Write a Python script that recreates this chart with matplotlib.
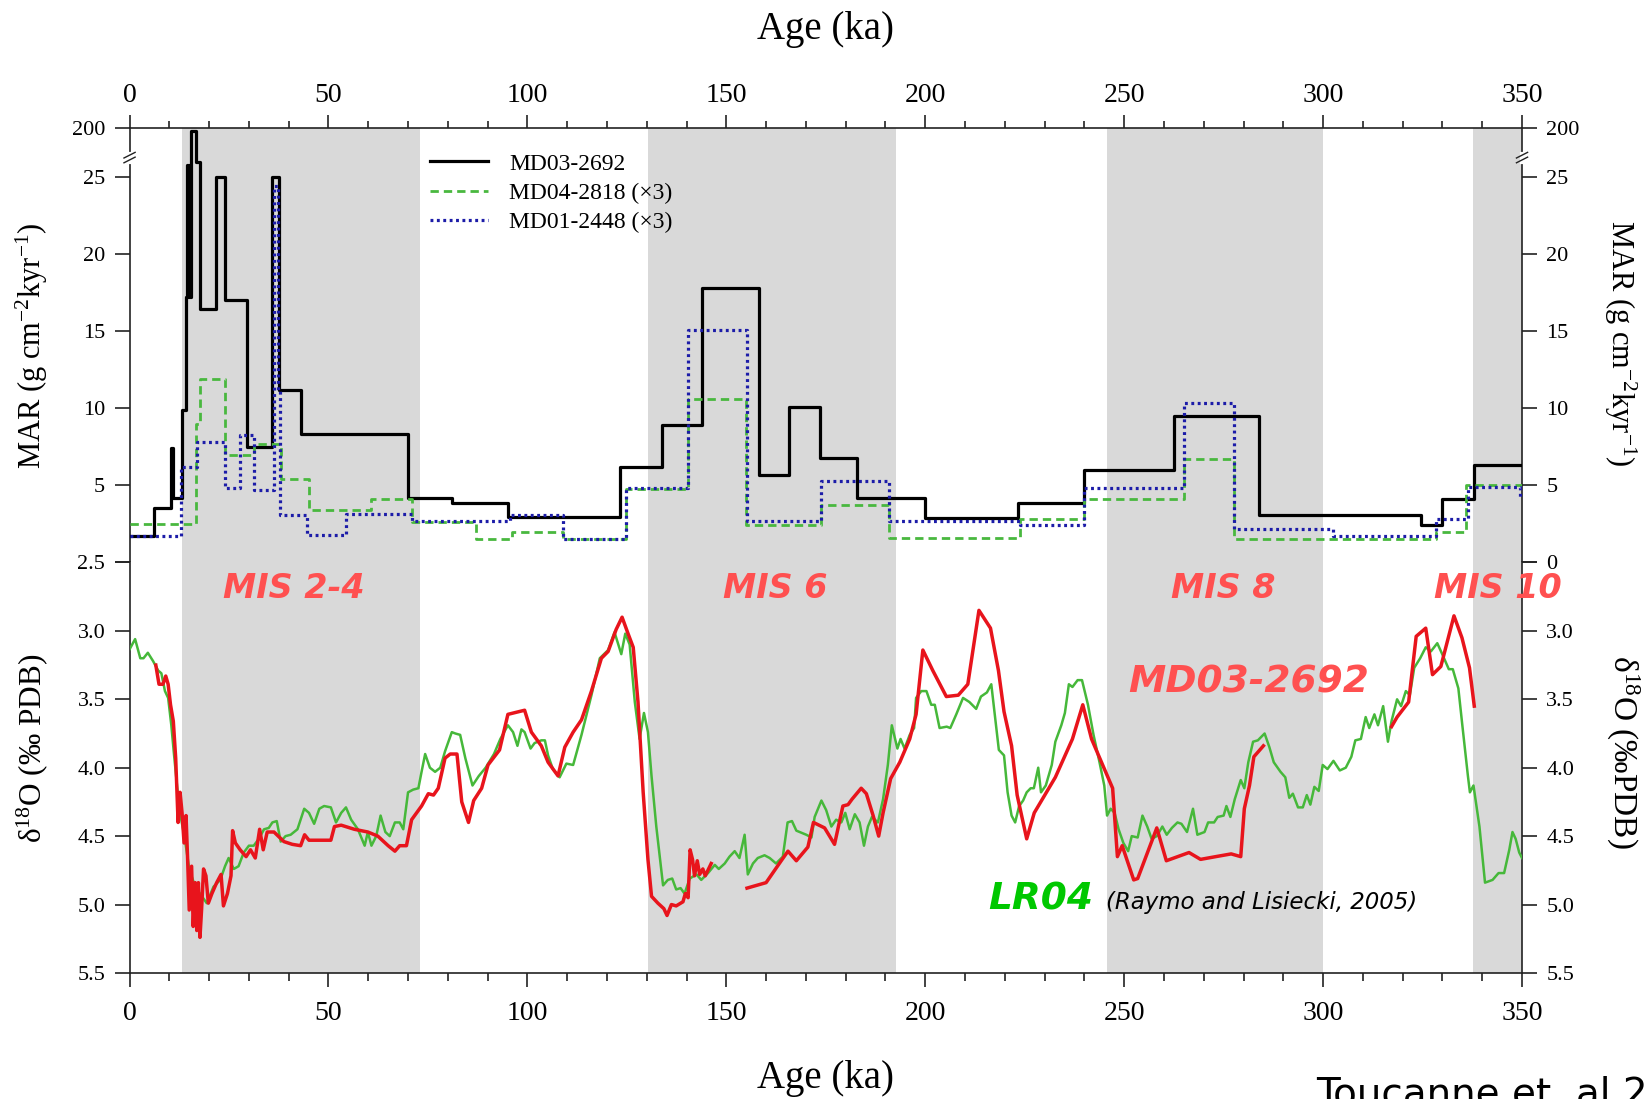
import numpy as np
import matplotlib
matplotlib.use("Agg")
import matplotlib.pyplot as plt

plt.rcParams["font.family"] = ["Liberation Serif", "DejaVu Serif"]
plt.rcParams["mathtext.fontset"] = "custom"
plt.rcParams["mathtext.rm"] = "Liberation Serif"
plt.rcParams["mathtext.it"] = "Liberation Serif:italic"

# ---------------- data ----------------
# MAR step series (edges in ka, values in g cm-2 kyr-1)
black_edges = [0, 6.2, 10.3, 10.8, 13.3, 14.3, 14.5, 14.7, 14.9, 15.1, 15.4, 16.7, 17.7, 21.7, 24.0,
               29.5, 35.9, 37.6, 43.0, 70.0, 81.0, 95.2, 123.2, 133.9, 143.8, 158.3, 165.8, 173.5,
               182.9, 200.0, 223.3, 240.0, 262.4, 283.8, 324.5, 329.8, 338.0, 350.0]
black_vals = [1.7, 3.5, 7.4, 4.2, 9.9, 17.2, 67, 17.2, 67, 17.2, 188, 79, 16.4, 25, 17.0,
              7.5, 25, 11.2, 8.3, 4.15, 3.85, 2.95, 6.2, 8.9, 17.8, 5.65, 10.1,
              6.8, 4.2, 2.9, 3.85, 6.0, 9.5, 3.1, 2.4, 4.1, 6.3]

green_edges = [0, 16.7, 17.7, 24.0, 31.2, 38.0, 45.1, 60.8, 70.9, 87.2, 96.2, 108.9, 124.8,
               140.3, 154.9, 173.7, 190.9, 223.8, 240.0, 265.0, 277.7, 328.4, 335.8, 350.0]
green_vals = [2.5, 9.0, 11.9, 6.95, 7.7, 5.4, 3.4, 4.1, 2.6, 1.5, 2.0, 1.55, 4.75,
              10.6, 2.4, 3.7, 1.6, 2.8, 4.1, 6.7, 1.5, 2.0, 5.0]

blue_edges = [0, 12.9, 16.9, 24.0, 27.8, 31.2, 36.3, 37.2, 37.8, 44.7, 54.4, 70.9, 95.6, 108.9,
              124.8, 140.3, 155.2, 173.7, 190.9, 223.8, 240.0, 265.0, 277.7, 302.5, 328.4,
              336.4, 349.6, 350.0]
blue_vals = [1.7, 6.2, 7.8, 4.8, 8.25, 4.7, 24.4, 11.1, 3.05, 1.75, 3.15, 2.7, 3.05, 1.55,
             4.8, 15.1, 2.7, 5.3, 2.7, 2.4, 4.85, 10.35, 2.2, 1.7, 2.8, 4.9, 4.2]

# LR04 stack
lr04_age = [0, 1.4, 2.7, 3.5, 4.6, 5.9, 7.2, 8.0, 8.9, 9.7, 10.5, 11.1, 12.0, 12.8, 13.9, 15.0, 16.5,
            17.7, 19.4, 21.1, 22.8, 24.0, 24.9, 26.2, 27.4, 28.7, 30.0, 31.2, 32.5, 33.8, 35.0,
            35.9, 37.0, 38.0, 39.2, 40.5, 42.2, 43.9, 45.1, 46.4, 47.7, 48.9, 50.6, 51.9, 53.2,
            54.4, 55.7, 57.4, 59.1, 59.9, 60.8, 62.0, 63.1, 64.3, 65.4, 66.7, 67.9, 68.8, 70.0,
            71.3, 72.6, 73.4, 74.3, 75.5, 76.8, 78.1, 79.3, 81.0, 81.9, 83.1, 84.4, 86.2, 87.8,
            89.5, 91.6, 93.2, 95.1, 96.4, 97.5, 98.5, 99.3, 100.8, 101.8, 103.5, 104.4, 105.2,
            106.4, 108.1, 109.8, 111.5, 113.6, 116.1, 118.2, 120.3, 121.9, 123.6, 124.6, 125.7,
            127.0, 128.2, 129.3, 130.3, 131.2, 132.4, 134.1, 135.3, 136.4, 137.4, 138.5, 139.5,
            140.8, 142.5, 143.7, 145.4, 147.1, 148.1, 149.6, 150.8, 152.1, 153.3, 154.6, 155.4,
            156.7, 157.9, 159.6, 160.9, 162.5, 164.2, 165.4, 166.5, 167.6, 170.1, 171.4, 172.2,
            173.9, 175.1, 176.4, 177.6, 178.9, 179.9, 181.0, 182.3, 183.5, 184.6, 185.6, 186.6,
            188.1, 189.4, 190.6, 191.6, 193.0, 193.8, 194.8, 196.1, 197.2, 197.7, 199.0, 200.3,
            201.5, 202.4, 203.6, 205.4, 206.3, 207.8, 209.5, 211.1, 212.8, 214.0, 215.5, 216.6,
            217.8, 218.5, 219.8, 220.7, 221.7, 222.6, 223.6, 224.6, 225.5, 226.5, 227.3, 228.4,
            229.1, 230.3, 231.8, 232.7, 234.2, 235.1, 236.1, 237.0, 238.3, 239.4, 240.9, 242.3,
            243.8, 245.0, 245.7, 246.6, 247.6, 248.6, 249.8, 251.0, 251.9, 253.4, 254.6, 255.8,
            256.9, 258.2, 259.6, 260.7, 262.0, 263.4, 264.4, 265.8, 267.3, 268.4, 270.2, 271.1,
            272.6, 273.5, 275.0, 275.7, 276.7, 277.8, 279.3, 280.2, 281.2, 282.4, 283.6, 285.3,
            286.5, 287.6, 289.3, 290.5, 291.5, 292.4, 293.7, 294.9, 295.9, 296.8, 297.8, 298.9,
            299.9, 301.1, 302.6, 304.2, 305.7, 307.1, 308.1, 309.5, 310.7, 311.6, 312.9, 313.8,
            315.1, 316.3, 317.2, 318.6, 319.6, 320.8, 321.8, 322.9, 324.4, 325.8, 327.1, 328.7,
            330.1, 331.6, 332.6, 334.0, 335.0, 336.4, 336.9, 337.8, 339.3, 340.7, 342.6, 344.1,
            345.5, 346.8, 347.6, 348.4, 349.3, 350.0]
lr04_d18o = [3.135, 3.06, 3.2, 3.2, 3.16, 3.22, 3.29, 3.31, 3.44, 3.49, 3.69, 3.88, 4.15, 4.35, 4.52, 4.74, 4.87,
             4.92, 4.99, 4.87, 4.82, 4.72, 4.66, 4.74, 4.72, 4.62, 4.57, 4.57, 4.52, 4.45, 4.44,
             4.40, 4.39, 4.54, 4.50, 4.49, 4.45, 4.30, 4.33, 4.41, 4.30, 4.28, 4.29, 4.40, 4.33,
             4.29, 4.38, 4.45, 4.57, 4.47, 4.57, 4.50, 4.35, 4.47, 4.50, 4.40, 4.40, 4.45, 4.18,
             4.16, 4.15, 4.03, 3.90, 4.00, 4.03, 4.00, 3.88, 3.74, 3.75, 3.76, 3.93, 4.13, 4.06,
             4.00, 3.90, 3.79, 3.69, 3.74, 3.84, 3.72, 3.74, 3.86, 3.82, 3.80, 3.80, 3.91,
             4.01, 4.07, 3.97, 3.98, 3.76, 3.47, 3.20, 3.14, 3.01, 3.17, 3.02, 3.10,
             3.52, 3.79, 3.60, 3.74, 4.06, 4.43, 4.86, 4.82, 4.81, 4.89, 4.88, 4.92,
             4.81, 4.78, 4.82, 4.77, 4.71, 4.74, 4.70, 4.65, 4.61, 4.66, 4.49, 4.78,
             4.70, 4.66, 4.64, 4.66, 4.70, 4.65, 4.40, 4.39, 4.46, 4.49, 4.51, 4.36,
             4.24, 4.31, 4.43, 4.38, 4.40, 4.33, 4.45, 4.34, 4.40, 4.57, 4.43, 4.36,
             4.40, 4.23, 3.98, 3.69, 3.86, 3.79, 3.86, 3.76, 3.71, 3.49, 3.44, 3.44,
             3.54, 3.54, 3.71, 3.70, 3.71, 3.61, 3.49, 3.52, 3.57, 3.48, 3.45, 3.39,
             3.69, 3.87, 3.91, 4.18, 4.35, 4.40, 4.28, 4.24, 4.18, 4.15, 4.15, 4.00,
             4.18, 4.13, 3.98, 3.81, 3.69, 3.60, 3.39, 3.41, 3.36, 3.36, 3.54, 3.76,
             3.96, 4.13, 4.35, 4.30, 4.33, 4.45, 4.55, 4.61, 4.50, 4.51, 4.35, 4.43,
             4.52, 4.50, 4.43, 4.49, 4.44, 4.40, 4.41, 4.47, 4.30, 4.49, 4.47, 4.40,
             4.40, 4.36, 4.35, 4.28, 4.36, 4.23, 4.09, 4.15, 3.96, 3.81, 3.80, 3.75,
             3.85, 3.96, 4.03, 4.07, 4.22, 4.19, 4.29, 4.29, 4.20, 4.27, 4.14, 4.17,
             3.98, 4.01, 3.95, 4.02, 4.00, 3.92, 3.80, 3.79, 3.63, 3.71, 3.61, 3.69,
             3.55, 3.81, 3.66, 3.50, 3.55, 3.44, 3.47, 3.27, 3.20, 3.12, 3.15, 3.09,
             3.18, 3.28, 3.28, 3.42, 3.69, 4.06, 4.18, 4.13, 4.43, 4.84, 4.82, 4.77,
             4.77, 4.60, 4.47, 4.52, 4.62, 4.66]

# MD03-2692 benthic d18O, three sections
md_age_1 = [6.6, 7.4, 8.4, 9.1, 9.7, 10.3, 11.0, 11.6, 12.2, 12.7, 13.2, 13.7, 14.2, 14.6, 15.0,
            15.6, 16.0, 16.5, 16.9, 17.3, 17.7, 18.1, 18.6, 19.2, 19.8, 20.7, 21.9, 23.0, 23.6,
            24.6, 25.5, 25.9, 26.6, 27.8, 29.3, 30.4, 31.6, 32.7, 33.6, 34.6, 36.3, 38.8, 40.9,
            43.0, 44.0, 45.1, 47.3, 50.6, 51.5, 53.2, 56.5, 59.9, 62.4, 65.0, 66.7, 67.9, 69.6,
            70.9, 73.4, 75.1, 76.4, 77.6, 79.3, 80.6, 82.3, 83.5, 85.2, 86.5, 88.5, 90.1, 93.0,
            95.1, 99.3, 101.0, 103.5, 105.2, 107.7, 109.4, 111.5, 113.6, 116.1, 118.6, 120.3,
            122.3, 123.8, 125.3, 126.6, 127.8, 129.1, 130.3, 131.2, 132.8, 134.3, 135.1, 136.2,
            137.4, 139.1, 139.7, 140.4, 140.9, 141.5, 142.0, 142.7, 143.3, 144.1, 144.7, 146.2]
md_d18o_1 = [3.25, 3.39, 3.39, 3.33, 3.39, 3.54, 3.66, 3.93, 4.40, 4.18, 4.33, 4.55, 4.35, 4.67, 5.04,
             4.72, 5.16, 4.84, 5.19, 4.84, 5.24, 5.04, 4.74, 4.79, 4.99, 4.92, 4.84, 4.78, 5.01,
             4.92, 4.79, 4.46, 4.55, 4.60, 4.65, 4.60, 4.66, 4.45, 4.60, 4.47, 4.47, 4.54, 4.56,
             4.57, 4.49, 4.53, 4.53, 4.53, 4.43, 4.42, 4.45, 4.47, 4.50, 4.57, 4.61, 4.57, 4.57,
             4.38, 4.28, 4.19, 4.20, 4.15, 3.93, 3.90, 3.90, 4.25, 4.40, 4.24, 4.15, 3.98, 3.87,
             3.61, 3.58, 3.74, 3.84, 3.96, 4.06, 3.85, 3.74, 3.65, 3.44, 3.20, 3.15,
             2.99, 2.90, 3.02, 3.12, 3.52, 4.18, 4.67, 4.94, 4.99, 5.03, 5.08, 5.00,
             5.01, 4.98, 4.92, 4.95, 4.60, 4.67, 4.79, 4.68, 4.78, 4.74, 4.79, 4.70]
md_age_2 = [155.2, 160.0, 163.8, 165.5, 167.6, 170.5, 171.9, 174.7, 177.2, 179.3, 180.6, 181.6,
            183.9, 185.2, 186.9, 188.3, 189.4, 191.3, 193.6, 196.1, 197.7, 199.4, 201.9, 205.3,
            208.3, 210.7, 213.5, 216.4, 218.4, 219.8, 221.7, 223.1, 225.5, 227.4, 232.7, 237.0,
            239.6, 241.8, 247.1, 248.3, 249.5, 252.4, 253.4, 258.2, 260.6, 266.3, 269.2, 273.0,
            276.9, 279.3, 280.2, 281.5, 282.6, 285.0]
md_d18o_2 = [4.88, 4.84, 4.68, 4.61, 4.68, 4.58, 4.40, 4.44, 4.56, 4.28, 4.27, 4.23,
             4.15, 4.19, 4.35, 4.50, 4.33, 4.08, 3.96, 3.79, 3.61, 3.14, 3.29, 3.48,
             3.47, 3.39, 2.85, 2.98, 3.29, 3.59, 3.84, 4.20, 4.52, 4.33, 4.07, 3.79,
             3.54, 3.79, 4.15, 4.65, 4.57, 4.82, 4.81, 4.44, 4.68, 4.62, 4.67, 4.65,
             4.63, 4.65, 4.30, 4.13, 3.92, 3.84]
md_age_3 = [317.2, 318.6, 321.5, 323.4, 325.8, 327.5, 329.6, 332.9, 334.9, 336.8, 338.0]
md_d18o_3 = [3.70, 3.63, 3.52, 3.04, 2.98, 3.32, 3.26, 2.89, 3.05, 3.27, 3.55]

# glacial stages (MIS) shading
mis_names = ["MIS 2-4", "MIS 6", "MIS 8", "MIS 10"]
mis_start = [13.2, 130.2, 245.7, 337.8]
mis_end = [73.0, 192.6, 300.0, 350.0]
mis_label_age = [41.3, 162.4, 274.9, 343.9]

# ---------------- figure ----------------
fig = plt.figure(figsize=(16.44, 10.99), dpi=100)
L, W = 0.0788, 0.847
ax_top = fig.add_axes([L, 0.4882, W, 0.3953])
ax_bot = fig.add_axes([L, 0.1147, W, 0.3735])

# broken MAR axis: 0-25 linear, 25-200 squeezed into the top strip
K = 3.16 / 175.0


def fwd(v):
    v = np.asarray(v, dtype=float)
    return np.where(v <= 25, v, 25 + (v - 25) * K)


def inv(t):
    t = np.asarray(t, dtype=float)
    return np.where(t <= 25, t, 25 + (t - 25) / K)


ax_top.set_yscale("function", functions=(fwd, inv))
ax_top.set_ylim(0, 200)
ax_bot.set_ylim(5.5, 2.5)
for ax in (ax_top, ax_bot):
    ax.set_xlim(0, 350)
    for s, e in zip(mis_start, mis_end):
        ax.axvspan(s, e, color="#d9d9d9", lw=0, zorder=0)
    for sp in ax.spines.values():
        sp.set_linewidth(1.2)
        sp.set_color("#222222")

ax_top.spines["bottom"].set_visible(False)
ax_bot.spines["top"].set_visible(False)

# MAR step curves
ax_top.step(black_edges, black_vals + [black_vals[-1]], where="post", color="black", lw=2.3,
            label="MD03-2692", zorder=3)
ax_top.step(green_edges, green_vals + [green_vals[-1]], where="post", color="#49b83f", lw=2.0,
            dashes=(3, 1.8), label="MD04-2818 (×3)", zorder=4)
ax_top.step(blue_edges, blue_vals + [blue_vals[-1]], where="post", color="#1c1ca8", lw=2.3,
            dashes=(0.9, 1.1), label="MD01-2448 (×3)", zorder=5)

leg = ax_top.legend(loc="upper left", bbox_to_anchor=(0.216, 0.942), frameon=False,
                    prop={"family": "Liberation Serif", "size": 17}, borderpad=0,
                    borderaxespad=0, handlelength=2.45, handletextpad=0.9, labelspacing=0.33)

# d18O curves
ax_bot.plot(lr04_age, lr04_d18o, color="#46b83a", lw=1.8, zorder=3)
for a, d in ((md_age_1, md_d18o_1), (md_age_2, md_d18o_2), (md_age_3, md_d18o_3)):
    ax_bot.plot(a, d, color="#e8141c", lw=2.5, zorder=4)

# ticks
ax_top.set_xticks(np.arange(0, 351, 50))
ax_top.set_xticks(np.arange(0, 351, 10), minor=True)
ax_bot.set_xticks(np.arange(0, 351, 50))
ax_bot.set_xticks(np.arange(0, 351, 10), minor=True)
ax_top.tick_params(axis="x", which="both", direction="out", top=True, bottom=False,
                   labeltop=True, labelbottom=False, labelsize=20, pad=5, width=1.2, color="#222222")
ax_top.tick_params(axis="x", which="major", length=9.5)
ax_top.tick_params(axis="x", which="minor", length=5)
ax_bot.tick_params(axis="x", which="both", direction="out", top=False, bottom=True,
                   labelsize=20, pad=10, width=1.2, color="#222222")
ax_bot.tick_params(axis="x", which="major", length=10)
ax_bot.tick_params(axis="x", which="minor", length=5.5)

mar_ticks = [0, 5, 10, 15, 20, 25, 200]
ax_top.set_yticks(mar_ticks, [str(t) for t in mar_ticks])
ax_top.yaxis.set_minor_locator(matplotlib.ticker.NullLocator())
d_ticks = [2.5, 3.0, 3.5, 4.0, 4.5, 5.0, 5.5]
ax_bot.set_yticks(d_ticks, ["%.1f" % t for t in d_ticks])
for ax in (ax_top, ax_bot):
    ax.tick_params(axis="y", which="major", direction="out", left=True, right=True,
                   labelleft=True, labelright=True, length=10.5, width=1.2, labelsize=16,
                   pad=7, color="#222222")
ax_top.yaxis.get_major_ticks()[0].label1.set_visible(False)
ax_bot.yaxis.get_major_ticks()[0].label2.set_visible(False)

# axis break marks on both y spines
for xa in (0, 1):
    ax_top.plot([xa, xa], [0.922, 0.94], transform=ax_top.transAxes, color="white", lw=3,
                clip_on=False, zorder=6)
    for dy in (0.0, 0.011):
        ax_top.plot([xa - 0.004, xa + 0.004], [0.920 + dy, 0.933 + dy], transform=ax_top.transAxes,
                    color="#222222", lw=1.0, clip_on=False, zorder=7)

# axis labels
fig.text(0.5024, 0.9736, "Age (ka)", ha="center", va="center", fontsize=28)
fig.text(0.5024, 0.019, "Age (ka)", ha="center", va="center", fontsize=28)
fig.text(0.0195, 0.6852, r"MAR (g cm$^{\mathregular{-2}}$kyr$^{\mathregular{-1}}$)", rotation=90,
         ha="center", va="center", fontsize=22)
fig.text(0.9855, 0.688, r"MAR (g cm$^{\mathregular{-2}}$kyr$^{\mathregular{-1}}$)", rotation=-90,
         ha="center", va="center", fontsize=22)
fig.text(0.0195, 0.3188, r"δ$^{\mathregular{18}}$O (‰ PDB)", rotation=90,
         ha="center", va="center", fontsize=22.5)
fig.text(0.9872, 0.3158, r"δ$^{\mathregular{18}}$O (‰PDB)", rotation=-90,
         ha="center", va="center", fontsize=24)

# annotations
sans = ["DejaVu Sans"]
for name, a in zip(mis_names, mis_label_age):
    ax_bot.text(a, 2.687, name, ha="center", va="center", fontsize=24, color="#ff5050",
                family=sans, weight="bold", style="italic", clip_on=False, zorder=8)
ax_bot.text(281.4, 3.377, "MD03-2692", ha="center", va="center", fontsize=27, color="#ff5050",
            family=sans, weight="bold", style="italic", zorder=8)
ax_bot.text(228.9, 4.96, "LR04", ha="center", va="center", fontsize=27, color="#00c800",
            family=sans, weight="bold", style="italic", zorder=8)
ax_bot.text(245.5, 4.985, "(Raymo and Lisiecki, 2005)", ha="left", va="center", fontsize=16.5,
            color="black", family=sans, style="italic", zorder=8)

fig.text(0.8005, 0.0215, "Toucanne et. al 2009", ha="left", va="top", fontsize=28,
         family=sans)

fig.savefig("out.png", dpi=100)
